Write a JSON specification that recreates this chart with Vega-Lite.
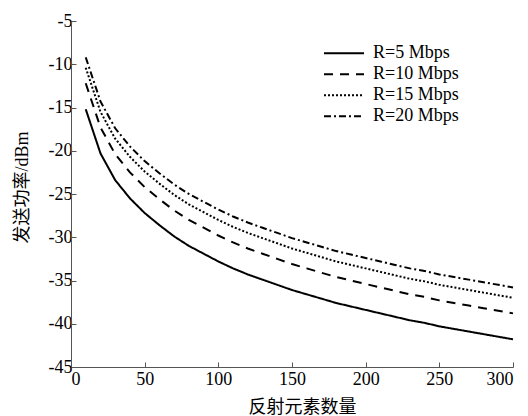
{
  "$schema": "https://vega.github.io/schema/vega-lite/v6.json",
  "autosize": "none",
  "width": 442,
  "height": 346,
  "padding": {"left": 71, "top": 21, "right": 15, "bottom": 49},
  "background": "white",
  "datasets": {
    "curves": [
      {"n": 10, "p": -15.2, "s": "R=5 Mbps"}, {"n": 20, "p": -20.3, "s": "R=5 Mbps"}, {"n": 30, "p": -23.4, "s": "R=5 Mbps"}, {"n": 40, "p": -25.5, "s": "R=5 Mbps"}, {"n": 50, "p": -27.2, "s": "R=5 Mbps"}, {"n": 60, "p": -28.6, "s": "R=5 Mbps"}, {"n": 70, "p": -29.9, "s": "R=5 Mbps"}, {"n": 80, "p": -31.0, "s": "R=5 Mbps"}, {"n": 90, "p": -31.9, "s": "R=5 Mbps"}, {"n": 100, "p": -32.8, "s": "R=5 Mbps"}, {"n": 110, "p": -33.6, "s": "R=5 Mbps"}, {"n": 120, "p": -34.3, "s": "R=5 Mbps"}, {"n": 130, "p": -34.9, "s": "R=5 Mbps"}, {"n": 140, "p": -35.5, "s": "R=5 Mbps"}, {"n": 150, "p": -36.1, "s": "R=5 Mbps"}, {"n": 160, "p": -36.6, "s": "R=5 Mbps"}, {"n": 170, "p": -37.1, "s": "R=5 Mbps"}, {"n": 180, "p": -37.6, "s": "R=5 Mbps"}, {"n": 190, "p": -38.0, "s": "R=5 Mbps"}, {"n": 200, "p": -38.4, "s": "R=5 Mbps"}, {"n": 210, "p": -38.8, "s": "R=5 Mbps"}, {"n": 220, "p": -39.2, "s": "R=5 Mbps"}, {"n": 230, "p": -39.6, "s": "R=5 Mbps"}, {"n": 240, "p": -39.9, "s": "R=5 Mbps"}, {"n": 250, "p": -40.3, "s": "R=5 Mbps"}, {"n": 260, "p": -40.6, "s": "R=5 Mbps"}, {"n": 270, "p": -40.9, "s": "R=5 Mbps"}, {"n": 280, "p": -41.2, "s": "R=5 Mbps"}, {"n": 290, "p": -41.5, "s": "R=5 Mbps"}, {"n": 300, "p": -41.8, "s": "R=5 Mbps"},
      {"n": 10, "p": -12.2, "s": "R=10 Mbps"}, {"n": 20, "p": -17.3, "s": "R=10 Mbps"}, {"n": 30, "p": -20.4, "s": "R=10 Mbps"}, {"n": 40, "p": -22.5, "s": "R=10 Mbps"}, {"n": 50, "p": -24.2, "s": "R=10 Mbps"}, {"n": 60, "p": -25.6, "s": "R=10 Mbps"}, {"n": 70, "p": -26.9, "s": "R=10 Mbps"}, {"n": 80, "p": -28.0, "s": "R=10 Mbps"}, {"n": 90, "p": -28.9, "s": "R=10 Mbps"}, {"n": 100, "p": -29.8, "s": "R=10 Mbps"}, {"n": 110, "p": -30.6, "s": "R=10 Mbps"}, {"n": 120, "p": -31.3, "s": "R=10 Mbps"}, {"n": 130, "p": -31.9, "s": "R=10 Mbps"}, {"n": 140, "p": -32.5, "s": "R=10 Mbps"}, {"n": 150, "p": -33.1, "s": "R=10 Mbps"}, {"n": 160, "p": -33.6, "s": "R=10 Mbps"}, {"n": 170, "p": -34.1, "s": "R=10 Mbps"}, {"n": 180, "p": -34.6, "s": "R=10 Mbps"}, {"n": 190, "p": -35.0, "s": "R=10 Mbps"}, {"n": 200, "p": -35.4, "s": "R=10 Mbps"}, {"n": 210, "p": -35.8, "s": "R=10 Mbps"}, {"n": 220, "p": -36.2, "s": "R=10 Mbps"}, {"n": 230, "p": -36.6, "s": "R=10 Mbps"}, {"n": 240, "p": -36.9, "s": "R=10 Mbps"}, {"n": 250, "p": -37.3, "s": "R=10 Mbps"}, {"n": 260, "p": -37.6, "s": "R=10 Mbps"}, {"n": 270, "p": -37.9, "s": "R=10 Mbps"}, {"n": 280, "p": -38.2, "s": "R=10 Mbps"}, {"n": 290, "p": -38.5, "s": "R=10 Mbps"}, {"n": 300, "p": -38.8, "s": "R=10 Mbps"},
      {"n": 10, "p": -10.4, "s": "R=15 Mbps"}, {"n": 20, "p": -15.5, "s": "R=15 Mbps"}, {"n": 30, "p": -18.6, "s": "R=15 Mbps"}, {"n": 40, "p": -20.7, "s": "R=15 Mbps"}, {"n": 50, "p": -22.4, "s": "R=15 Mbps"}, {"n": 60, "p": -23.8, "s": "R=15 Mbps"}, {"n": 70, "p": -25.1, "s": "R=15 Mbps"}, {"n": 80, "p": -26.2, "s": "R=15 Mbps"}, {"n": 90, "p": -27.1, "s": "R=15 Mbps"}, {"n": 100, "p": -28.0, "s": "R=15 Mbps"}, {"n": 110, "p": -28.8, "s": "R=15 Mbps"}, {"n": 120, "p": -29.5, "s": "R=15 Mbps"}, {"n": 130, "p": -30.1, "s": "R=15 Mbps"}, {"n": 140, "p": -30.7, "s": "R=15 Mbps"}, {"n": 150, "p": -31.3, "s": "R=15 Mbps"}, {"n": 160, "p": -31.8, "s": "R=15 Mbps"}, {"n": 170, "p": -32.3, "s": "R=15 Mbps"}, {"n": 180, "p": -32.8, "s": "R=15 Mbps"}, {"n": 190, "p": -33.2, "s": "R=15 Mbps"}, {"n": 200, "p": -33.6, "s": "R=15 Mbps"}, {"n": 210, "p": -34.0, "s": "R=15 Mbps"}, {"n": 220, "p": -34.4, "s": "R=15 Mbps"}, {"n": 230, "p": -34.8, "s": "R=15 Mbps"}, {"n": 240, "p": -35.1, "s": "R=15 Mbps"}, {"n": 250, "p": -35.5, "s": "R=15 Mbps"}, {"n": 260, "p": -35.8, "s": "R=15 Mbps"}, {"n": 270, "p": -36.1, "s": "R=15 Mbps"}, {"n": 280, "p": -36.4, "s": "R=15 Mbps"}, {"n": 290, "p": -36.7, "s": "R=15 Mbps"}, {"n": 300, "p": -37.0, "s": "R=15 Mbps"},
      {"n": 10, "p": -9.2, "s": "R=20 Mbps"}, {"n": 20, "p": -14.3, "s": "R=20 Mbps"}, {"n": 30, "p": -17.4, "s": "R=20 Mbps"}, {"n": 40, "p": -19.5, "s": "R=20 Mbps"}, {"n": 50, "p": -21.2, "s": "R=20 Mbps"}, {"n": 60, "p": -22.6, "s": "R=20 Mbps"}, {"n": 70, "p": -23.9, "s": "R=20 Mbps"}, {"n": 80, "p": -25.0, "s": "R=20 Mbps"}, {"n": 90, "p": -25.9, "s": "R=20 Mbps"}, {"n": 100, "p": -26.8, "s": "R=20 Mbps"}, {"n": 110, "p": -27.6, "s": "R=20 Mbps"}, {"n": 120, "p": -28.3, "s": "R=20 Mbps"}, {"n": 130, "p": -28.9, "s": "R=20 Mbps"}, {"n": 140, "p": -29.5, "s": "R=20 Mbps"}, {"n": 150, "p": -30.1, "s": "R=20 Mbps"}, {"n": 160, "p": -30.6, "s": "R=20 Mbps"}, {"n": 170, "p": -31.1, "s": "R=20 Mbps"}, {"n": 180, "p": -31.6, "s": "R=20 Mbps"}, {"n": 190, "p": -32.0, "s": "R=20 Mbps"}, {"n": 200, "p": -32.4, "s": "R=20 Mbps"}, {"n": 210, "p": -32.8, "s": "R=20 Mbps"}, {"n": 220, "p": -33.2, "s": "R=20 Mbps"}, {"n": 230, "p": -33.6, "s": "R=20 Mbps"}, {"n": 240, "p": -33.9, "s": "R=20 Mbps"}, {"n": 250, "p": -34.3, "s": "R=20 Mbps"}, {"n": 260, "p": -34.6, "s": "R=20 Mbps"}, {"n": 270, "p": -34.9, "s": "R=20 Mbps"}, {"n": 280, "p": -35.2, "s": "R=20 Mbps"}, {"n": 290, "p": -35.5, "s": "R=20 Mbps"}, {"n": 300, "p": -35.8, "s": "R=20 Mbps"}
    ]
  },
  "config": {
    "view": {"stroke": null},
    "font": "Liberation Serif, Times New Roman, DejaVu Serif, serif",
    "axis": {"grid": false, "domainColor": "#555555", "tickColor": "#555555", "labelColor": "black", "titleColor": "black", "labelFont": "Liberation Serif, Times New Roman, DejaVu Serif, serif", "titleFont": "Liberation Serif, Times New Roman, Noto Sans CJK SC, serif", "labelFontSize": 18, "titleFontSize": 18, "titleFontWeight": "normal", "tickSize": -5, "domainWidth": 1, "tickWidth": 1, "labelExpr": "replace(datum.label, '−', '-')"}
  },
  "data": {"name": "curves"},
  "mark": {"type": "line", "color": "black", "strokeWidth": 2},
  "encoding": {
    "x": {"field": "n", "type": "quantitative", "scale": {"domain": [0, 300], "nice": false},
      "axis": {"title": "反射元素数量", "values": [0, 50, 100, 150, 200, 250, 300], "labelPadding": 8, "titleX": 231, "titleY": 40, "titleBaseline": "middle"}},
    "y": {"field": "p", "type": "quantitative", "scale": {"domain": [-45, -5], "nice": false},
      "axis": {"title": "发送功率/dBm", "values": [-45, -40, -35, -30, -25, -20, -15, -10, -5], "labelPadding": 4, "titleX": -49, "titleY": 166, "titleBaseline": "middle", "titleAngle": -90}},
    "strokeDash": {"field": "s", "type": "nominal",
      "scale": {"domain": ["R=5 Mbps", "R=10 Mbps", "R=15 Mbps", "R=20 Mbps"], "range": [[1, 0], [9, 7], [2, 2], [7, 3, 2, 3]]},
      "legend": {"title": null, "orient": "none", "legendX": 252, "legendY": 22, "padding": 0, "clipHeight": 20.6, "symbolType": "stroke", "symbolSize": 1600, "symbolStrokeWidth": 2, "symbolStrokeColor": "black", "labelFont": "Liberation Serif, Times New Roman, DejaVu Serif, serif", "labelFontSize": 18, "labelColor": "black", "rowPadding": 0, "labelOffset": 8}}
  }
}
